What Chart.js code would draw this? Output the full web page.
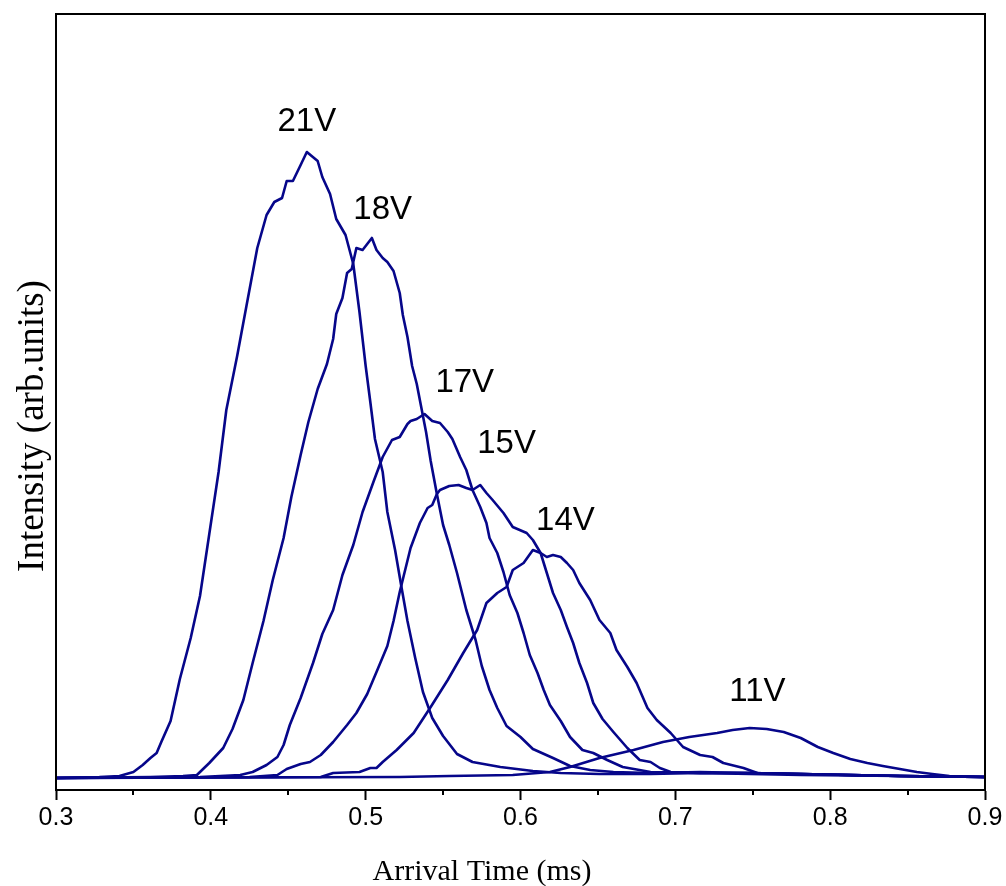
<!DOCTYPE html>
<html>
<head>
<meta charset="utf-8">
<script src="https://cdn.jsdelivr.net/npm/chart.js@4.4.1/dist/chart.umd.min.js"></script>
<style>
  html, body { margin: 0; padding: 0; background: #fff; }
  #wrap { width: 1006px; height: 886px; }
</style>
</head>
<body>
<div id="wrap"><canvas id="chart" width="1006" height="886"></canvas></div>
<script>
// arrival time (ms) / intensity (arb. units)
var t21 = [0.300,0.328,0.341,0.350,0.356,0.361,0.365,0.368,0.374,0.380,0.387,0.393,0.399,0.405,0.410,0.417,0.423,0.430,0.436,0.441,0.446,0.449,0.453,0.458,0.462,0.469,0.472,0.477,0.481,0.487,0.492,0.496,0.500,0.503,0.506,0.511,0.514,0.519,0.523,0.527,0.532,0.537,0.543,0.550,0.559,0.569,0.587,0.608,0.626,0.651,0.684,0.716,0.748,0.781,0.845,0.900];
var v21 = [0,1,2,6,13,20,25,36,57,99,140,182,244,306,368,422,472,530,563,576,580,597,597,613,626,617,601,584,559,543,514,466,412,376,339,306,266,228,192,157,120,86,60,42,24,16,11,7,5,4,4,5,4,3,2,1];

var t18 = [0.300,0.361,0.382,0.391,0.399,0.408,0.414,0.421,0.427,0.434,0.440,0.447,0.452,0.458,0.463,0.469,0.475,0.479,0.481,0.485,0.488,0.491,0.494,0.498,0.501,0.504,0.507,0.511,0.514,0.518,0.522,0.524,0.527,0.530,0.533,0.536,0.539,0.542,0.546,0.550,0.554,0.559,0.565,0.571,0.575,0.580,0.585,0.591,0.600,0.608,0.621,0.632,0.645,0.660,0.684,0.716,0.748,0.781,0.845,0.900];
var v18 = [0,1,2,3,15,30,49,78,115,157,198,240,281,323,356,389,414,439,464,480,505,509,530,528,534,540,528,520,516,507,485,463,441,412,394,370,346,317,284,253,233,205,168,138,112,88,70,52,41,29,20,12,8,6,5,6,5,4,2,1];

var t17 = [0.300,0.393,0.419,0.427,0.436,0.443,0.447,0.451,0.458,0.466,0.472,0.479,0.485,0.492,0.498,0.505,0.511,0.517,0.522,0.527,0.529,0.533,0.538,0.543,0.548,0.553,0.556,0.561,0.565,0.569,0.574,0.578,0.580,0.585,0.589,0.593,0.598,0.602,0.606,0.611,0.615,0.619,0.626,0.632,0.640,0.647,0.656,0.666,0.684,0.716,0.748,0.781,0.845,0.900];
var v17 = [0,1,3,6,13,21,33,53,80,115,144,168,203,233,266,296,321,338,341,354,357,359,364,357,355,346,339,321,308,288,271,255,240,225,206,183,165,145,123,105,88,73,57,41,28,25,18,11,6,5,5,4,2,1];

var t15 = [0.300,0.425,0.443,0.449,0.458,0.464,0.471,0.479,0.488,0.494,0.501,0.507,0.514,0.518,0.522,0.529,0.535,0.540,0.543,0.546,0.548,0.554,0.560,0.565,0.569,0.574,0.578,0.582,0.589,0.595,0.604,0.608,0.613,0.617,0.621,0.626,0.630,0.634,0.638,0.643,0.647,0.653,0.660,0.669,0.677,0.684,0.690,0.697,0.716,0.748,0.781,0.845,0.900];
var v15 = [0,1,3,9,14,16,23,36,53,65,84,106,132,157,186,230,255,270,273,284,288,292,293,290,288,293,285,278,265,251,245,238,225,205,185,168,151,135,115,95,75,59,46,30,18,16,10,6,5,5,4,2,1];

var t14 = [0.300,0.471,0.479,0.496,0.503,0.507,0.511,0.520,0.531,0.542,0.553,0.563,0.572,0.578,0.585,0.591,0.595,0.602,0.608,0.613,0.617,0.621,0.626,0.630,0.634,0.638,0.645,0.651,0.658,0.662,0.669,0.675,0.682,0.688,0.697,0.705,0.716,0.724,0.731,0.744,0.753,0.781,0.845,0.900];
var v14 = [0,1,5,6,10,10,16,28,45,71,98,125,148,175,185,191,208,215,228,225,221,223,221,215,208,195,178,158,145,128,111,95,70,58,45,31,23,21,15,10,5,4,2,1];

var t11 = [0.300,0.522,0.554,0.595,0.619,0.632,0.651,0.673,0.692,0.709,0.727,0.737,0.748,0.759,0.770,0.781,0.792,0.802,0.813,0.824,0.834,0.845,0.856,0.866,0.877,0.900];
var v11 = [0,1,2,3,6,11,20,28,36,41,45,48,50,49,46,40,31,25,19,15,12,9,6,4,2,1];

var seriesNames = ["21V", "18V", "17V", "15V", "14V", "11V"];
var seriesT = [t21, t18, t17, t15, t14, t11];
var seriesV = [v21, v18, v17, v15, v14, v11];

// where the voltage tags sit, in data units
var labelT = [0.462, 0.511, 0.564, 0.591, 0.629, 0.753];
var labelV = [656, 568, 395, 334, 257, 86];

var xTicks = [0.3, 0.4, 0.5, 0.6, 0.7, 0.8, 0.9];
var xMinorTicks = [0.35, 0.45, 0.55, 0.65, 0.75, 0.85];

var lineColor = "#06068a";

function toPoints(ts, vs) {
  var pts = [];
  for (var i = 0; i < ts.length; i++) pts.push({ x: ts[i], y: vs[i] });
  return pts;
}

var datasets = seriesNames.map(function (name, i) {
  return {
    label: name,
    data: toPoints(seriesT[i], seriesV[i]),
    borderColor: lineColor,
    borderWidth: 2.6,
    borderJoinStyle: "round",
    pointRadius: 0,
    tension: 0,
    fill: false,
  };
});

// frame, minor ticks, curve tags, axis titles
var extras = {
  id: "extras",
  afterDraw: function (chart) {
    var ctx = chart.ctx;
    var a = chart.chartArea;
    var xs = chart.scales.x;
    var ys = chart.scales.y;
    ctx.save();
    ctx.strokeStyle = "#000";
    ctx.lineWidth = 2;
    ctx.strokeRect(a.left, a.top, a.right - a.left, a.bottom - a.top);

    xMinorTicks.forEach(function (v) {
      var px = Math.round(xs.getPixelForValue(v));
      ctx.beginPath();
      ctx.moveTo(px, a.bottom);
      ctx.lineTo(px, a.bottom + 5);
      ctx.stroke();
    });

    ctx.fillStyle = "#000";
    ctx.font = "33px 'Liberation Sans', Arial, sans-serif";
    ctx.textAlign = "center";
    ctx.textBaseline = "middle";
    seriesNames.forEach(function (name, i) {
      ctx.fillText(name, xs.getPixelForValue(labelT[i]), ys.getPixelForValue(labelV[i]));
    });

    ctx.textBaseline = "alphabetic";
    ctx.font = "30px 'Liberation Serif', 'Times New Roman', serif";
    ctx.fillText("Arrival Time (ms)", 482, 880);

    ctx.translate(43, 426);
    ctx.rotate(-Math.PI / 2);
    ctx.font = "37px 'Liberation Serif', 'Times New Roman', serif";
    ctx.fillText("Intensity (arb.units)", 0, 0);
    ctx.restore();
  },
};

new Chart(document.getElementById("chart"), {
  type: "line",
  data: { datasets: datasets },
  options: {
    responsive: false,
    animation: false,
    layout: { padding: { left: 0, right: 21, top: 14, bottom: 0 } },
    plugins: { legend: { display: false }, tooltip: { enabled: false } },
    scales: {
      x: {
        type: "linear",
        min: 0.3,
        max: 0.9,
        afterBuildTicks: function (s) {
          s.ticks = xTicks.map(function (v) { return { value: v }; });
        },
        afterFit: function (s) { s.height = 96; },
        grid: {
          drawOnChartArea: false,
          drawTicks: true,
          tickLength: 10,
          tickColor: "#000",
          tickWidth: 2,
        },
        border: { display: true, color: "#000", width: 2 },
        ticks: {
          padding: 3,
          maxRotation: 0,
          color: "#000",
          font: { family: "'Liberation Sans', Arial, sans-serif", size: 25 },
          callback: function (v) { return Number(v).toFixed(1); },
        },
      },
      y: {
        type: "linear",
        min: -12,
        max: 764,
        afterFit: function (s) { s.width = 56; },
        grid: { display: false },
        border: { display: true, color: "#000", width: 2 },
        ticks: { display: false },
      },
    },
  },
  plugins: [extras],
});
</script>
</body>
</html>
